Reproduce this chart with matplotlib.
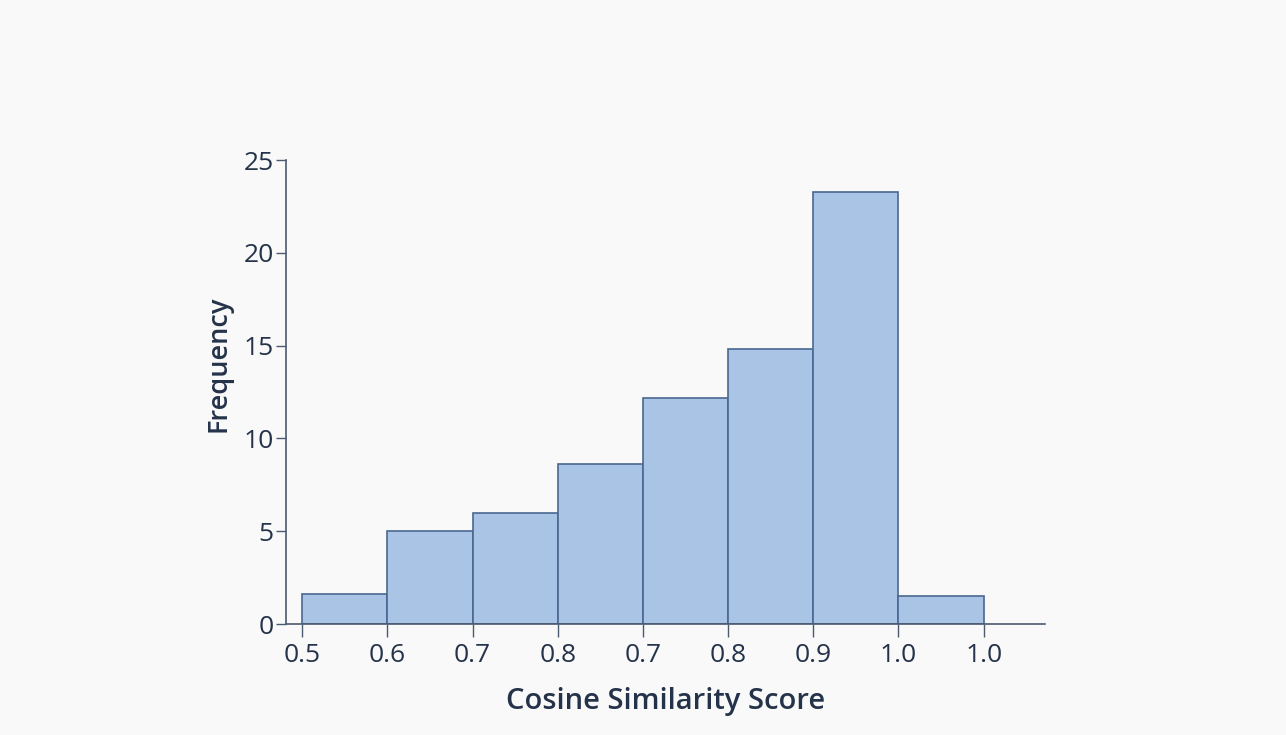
import matplotlib
matplotlib.use('Agg')
import matplotlib.pyplot as plt
import numpy as np

plt.rcParams['font.family'] = ['Open Sans', 'DejaVu Sans']

# bin edges are drawn at positions 0..8, labelled as in the source chart
edge_labels = ['0.5', '0.6', '0.7', '0.8', '0.7', '0.8', '0.9', '1.0', '1.0']
counts = [1.6, 5.0, 6.0, 8.6, 12.2, 14.8, 23.3, 1.5]

BG = '#f9f9f9'
TXT = '#25334a'
FILL = '#a9c4e4'
EDGE = '#4a6890'

fig = plt.figure(figsize=(12.86, 7.35), dpi=100, facecolor=BG)
ax = fig.add_axes([0.2224, 0.151, 0.5902, 0.6313], facecolor=BG)

edges = np.arange(len(edge_labels))
ax.bar(edges[:-1], counts, width=1.0, align='edge', color=FILL,
       edgecolor=EDGE, linewidth=1.2)

ax.set_xlim(-0.19, 8.72)
ax.set_ylim(0, 25)
ax.set_xticks(edges)
ax.set_xticklabels(edge_labels)
ax.set_yticks([0, 5, 10, 15, 20, 25])

for s in ['top', 'right']:
    ax.spines[s].set_visible(False)
for s in ['left', 'bottom']:
    ax.spines[s].set_color('#4a5a70')
    ax.spines[s].set_linewidth(1.2)

ax.tick_params(axis='both', colors='#4a5a70', labelcolor=TXT,
               labelsize=19, width=1.0)
ax.tick_params(axis='x', length=9, pad=5)
ax.tick_params(axis='y', length=7, pad=2)

ax.set_xlabel('Cosine Similarity Score', fontsize=21, fontweight='semibold',
              color=TXT, labelpad=13)
ax.set_ylabel('Frequency', fontsize=19.5, fontweight='semibold', color=TXT)
ax.yaxis.set_label_coords(-0.071, 0.56)

fig.savefig('out.png', dpi=100, facecolor=BG)
